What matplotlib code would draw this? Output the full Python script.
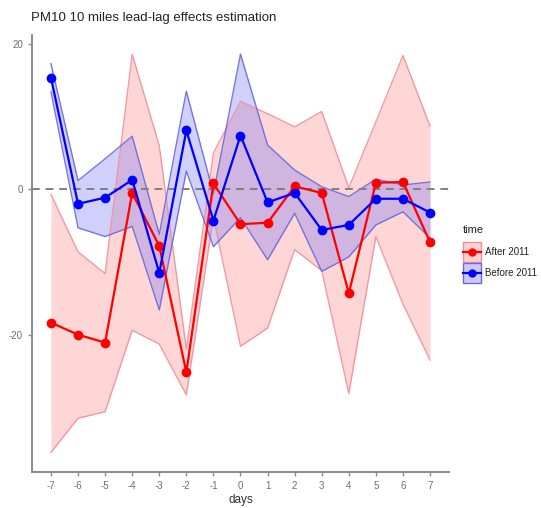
import numpy as np
import matplotlib
matplotlib.use("Agg")
import matplotlib.pyplot as plt
from matplotlib.patches import Rectangle
from matplotlib.lines import Line2D

plt.rcParams['font.family'] = ['Liberation Sans', 'DejaVu Sans']
plt.rcParams['axes.unicode_minus'] = False

# lag in days
days = [-7, -6, -5, -4, -3, -2, -1, 0, 1, 2, 3, 4, 5, 6, 7]

# After 2011: estimate and ribbon bounds
after_est = [-18.35, -20.0, -21.1, -0.5, -7.8, -25.2, 0.8, -4.8, -4.6, 0.4, -0.5, -14.3, 0.9, 1.0, -7.3]
after_hi = [-0.7, -8.6, -11.6, 18.6, 6.0, -22.0, 5.0, 12.1, 10.4, 8.6, 10.7, 0.2, 9.3, 18.4, 8.7]
after_lo = [-36.2, -31.5, -30.6, -19.4, -21.3, -28.3, -3.8, -21.6, -19.1, -8.3, -11.2, -28.1, -6.5, -15.8, -23.5]

# Before 2011
before_est = [15.35, -2.0, -1.15, 1.3, -11.5, 8.1, -4.3, 7.4, -1.8, -0.5, -5.6, -4.9, -1.3, -1.3, -3.2]
before_hi = [17.3, 1.2, 4.2, 7.3, -6.2, 13.5, -0.6, 18.6, 6.1, 2.65, 0.35, -1.0, 1.4, 0.6, 1.0]
before_lo = [13.4, -5.3, -6.5, -5.1, -16.6, 2.5, -7.9, -3.9, -9.7, -3.3, -11.3, -9.3, -4.9, -3.1, -6.7]

groups = ["After 2011", "Before 2011"]
x_ticks = days
y_ticks = [-20, 0, 20]

W, H = 541, 508
fig = plt.figure(figsize=(W / 100, H / 100), dpi=100)
ax = fig.add_axes([32 / W, (H - 472) / H, (449 - 32) / W, (472 - 34.5) / H])


def fx(px):
    return px / W


def fy(py):
    # pixel row from the top -> figure fraction
    return 1 - py / H


series = [
    (after_est, after_hi, after_lo, "#ff0000", "#ff8a8a", "#f0909a"),
    (before_est, before_hi, before_lo, "#0000ff", "#7a7af5", "#6a6ad8"),
]

x = np.array(days)
for est, hi, lo, col, fillc, edgec in series:
    ax.fill_between(x, lo, hi, color=fillc, alpha=0.35, lw=0, zorder=1)
    ax.plot(x, hi, color=edgec, lw=1.0, alpha=0.9, zorder=2)
    ax.plot(x, lo, color=edgec, lw=1.0, alpha=0.9, zorder=2)

ax.axhline(0, color="#808080", ls=(0, (4, 3)), lw=1.4, zorder=3)

for est, hi, lo, col, fillc, edgec in series:
    ax.plot(x, est, color=col, lw=1.6, marker="o", ms=6, zorder=4)

ax.set_xlim(-7.7, 7.7)
ax.set_ylim(-38.9, 21.3)
ax.set_xticks(x_ticks)
ax.set_xticklabels([str(d) for d in x_ticks])
ax.set_yticks(y_ticks)
for s in ["top", "right"]:
    ax.spines[s].set_visible(False)
for s in ["left", "bottom"]:
    ax.spines[s].set_color("#8a8a8a")
    ax.spines[s].set_linewidth(1.4)
ax.tick_params(colors="#8a8a8a", labelcolor="#6e6e6e", labelsize=7, length=3, width=1)
ax.set_xlabel("days", fontsize=8.5, color="#333333", labelpad=2)

fig.text(fx(31), fy(18), "PM10 10 miles lead-lag effects estimation",
         fontsize=9.5, color="#222222", va="center", ha="left")

# legend drawn by hand so the keys get ggplot-like square boxes
fig.text(fx(463), fy(230), "time", fontsize=8, color="#222222", va="center", ha="left")
for i, (name, (est, hi, lo, col, fillc, edgec)) in enumerate(zip(groups, series)):
    top = 242 + 20.5 * i
    fig.add_artist(Rectangle((fx(463), fy(top + 20)), fx(18), 20 / H,
                             transform=fig.transFigure, facecolor=fillc, alpha=0.4,
                             edgecolor="none"))
    fig.add_artist(Rectangle((fx(463), fy(top + 20)), fx(18), 20 / H,
                             transform=fig.transFigure, facecolor="none",
                             edgecolor=edgec, lw=1.0))
    fig.add_artist(Line2D([fx(463), fx(481)], [fy(top + 10)] * 2,
                          transform=fig.transFigure, color=col, lw=1.6))
    fig.add_artist(Line2D([fx(472)], [fy(top + 10)], transform=fig.transFigure,
                          color=col, marker="o", ms=5))
    fig.text(fx(485), fy(top + 10), name, fontsize=7, color="#222222",
             va="center", ha="left")

fig.savefig("out.png", dpi=100)
